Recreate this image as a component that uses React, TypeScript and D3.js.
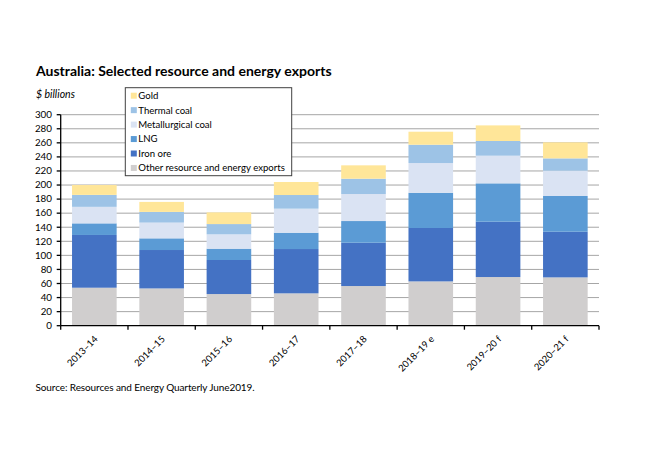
import React from 'react';
import * as d3 from 'd3';

// financial years (f = forecast, e = estimate)
const years = ['2013–14', '2014–15', '2015–16', '2016–17', '2017–18', '2018–19 e', '2019–20 f', '2020–21 f'];

// $ billions
const other = [54, 53, 45, 46, 56.4, 63, 69.2, 68.7];
const ironOre = [75, 54.6, 48.4, 63, 61.6, 75.9, 78.7, 64.9];
const lng = [16.5, 16.6, 16.1, 23.2, 30.8, 50.1, 54.5, 50.8];
const metCoal = [23.5, 22.4, 20.4, 34.2, 38.4, 42.3, 39.3, 36];
const thermalCoal = [17, 15.2, 14.6, 19.4, 21.8, 26, 20.9, 17.5];
const gold = [14, 14.2, 16.6, 18.5, 19, 18.5, 22.2, 22.8];

const seriesNames = ['Other resource and energy exports', 'Iron ore', 'LNG', 'Metallurgical coal', 'Thermal coal', 'Gold'];
const seriesValues = [other, ironOre, lng, metCoal, thermalCoal, gold];
const seriesColors = ['#d0cece', '#4472c4', '#5b9bd5', '#dae3f3', '#9dc3e6', '#ffe699'];

const yTicks = d3.range(0, 301, 20);

const font = 'Lato, Calibri, "Open Sans", sans-serif';

const App = () => {
  const width = 650;
  const height = 455;
  const plot = { l: 60.7, r: 599, t: 114.7, b: 325.7 };

  const rows = years.map((yr, i) => {
    const row: any = { year: yr };
    seriesNames.forEach((s, j) => (row[s] = seriesValues[j][i]));
    return row;
  });

  const stacked = d3.stack().keys(seriesNames)(rows);

  const x = d3
    .scaleBand()
    .domain(years)
    .range([plot.l, plot.r])
    .paddingInner(0.337)
    .paddingOuter(0.1685);

  const y = d3.scaleLinear().domain([0, 300]).range([plot.b, plot.t]);

  const step = x.step();
  const xTicks = d3.range(0, years.length + 1).map(i => plot.l + i * step);

  const legendX = 125.3;
  const legendY = 87.7;

  return (
    <svg
      width={width}
      height={height}
      style={{ position: 'absolute', left: 0, top: 0, background: '#fff' }}
      fontFamily={font}
    >
      <text x={36} y={76} fontSize={14} fontWeight="bold" fill="#000">
        Australia: Selected resource and energy exports
      </text>
      <text x={36} y={98} fontSize={10.5} fontStyle="italic" fill="#000">
        $ billions
      </text>

      {/* gridlines */}
      {yTicks.slice(1).map(t => (
        <line key={t} x1={plot.l} x2={plot.r} y1={y(t)} y2={y(t)} stroke="#a6a6a6" strokeWidth={1} />
      ))}

      {/* bars */}
      {stacked.map((layer, j) => (
        <g key={layer.key} fill={seriesColors[j]}>
          {layer.map((d, i) => (
            <rect
              key={i}
              x={x(years[i])}
              width={x.bandwidth()}
              y={y(d[1])}
              height={y(d[0]) - y(d[1])}
            />
          ))}
        </g>
      ))}

      {/* y axis */}
      <line x1={plot.l} x2={plot.l} y1={plot.t} y2={plot.b} stroke="#000" strokeWidth={1.3} />
      {yTicks.map(t => (
        <g key={t}>
          <line x1={plot.l - 4} x2={plot.l} y1={y(t)} y2={y(t)} stroke="#000" strokeWidth={1.3} />
          <text x={52} y={y(t)} dy="0.34em" textAnchor="end" fontSize={9.8} fill="#000">
            {t}
          </text>
        </g>
      ))}

      {/* x axis */}
      <line x1={plot.l} x2={plot.r} y1={plot.b} y2={plot.b} stroke="#000" strokeWidth={1.3} />
      {xTicks.map((t, i) => (
        <line key={i} x1={t} x2={t} y1={plot.b} y2={plot.b + 4} stroke="#000" strokeWidth={1.3} />
      ))}
      {years.map(yr => {
        const cx = (x(yr) as number) + x.bandwidth() / 2 + 4;
        const cy = plot.b + 14;
        return (
          <text
            key={yr}
            x={cx}
            y={cy}
            textAnchor="end"
            fontSize={9.5}
            fill="#000"
            transform={`rotate(-45, ${cx}, ${cy})`}
          >
            {yr}
          </text>
        );
      })}

      {/* legend */}
      <rect x={legendX} y={legendY} width={166.4} height={88} fill="#fff" stroke="#404040" strokeWidth={1} />
      {seriesNames
        .map((s, j) => ({ s, c: seriesColors[j] }))
        .reverse()
        .map((d, i) => {
          const cy = legendY + 8 + i * 14.45;
          return (
            <g key={d.s}>
              <rect x={legendX + 5.5} y={cy - 3} width={6} height={6} fill={d.c} />
              <text x={legendX + 13} y={cy} dy="0.35em" fontSize={9.6} fill="#000">
                {d.s}
              </text>
            </g>
          );
        })}

      <text x={35.5} y={390.5} fontSize={10} fill="#000" letterSpacing={-0.1}>
        Source: Resources and Energy Quarterly June2019.
      </text>
    </svg>
  );
};

export default App;
